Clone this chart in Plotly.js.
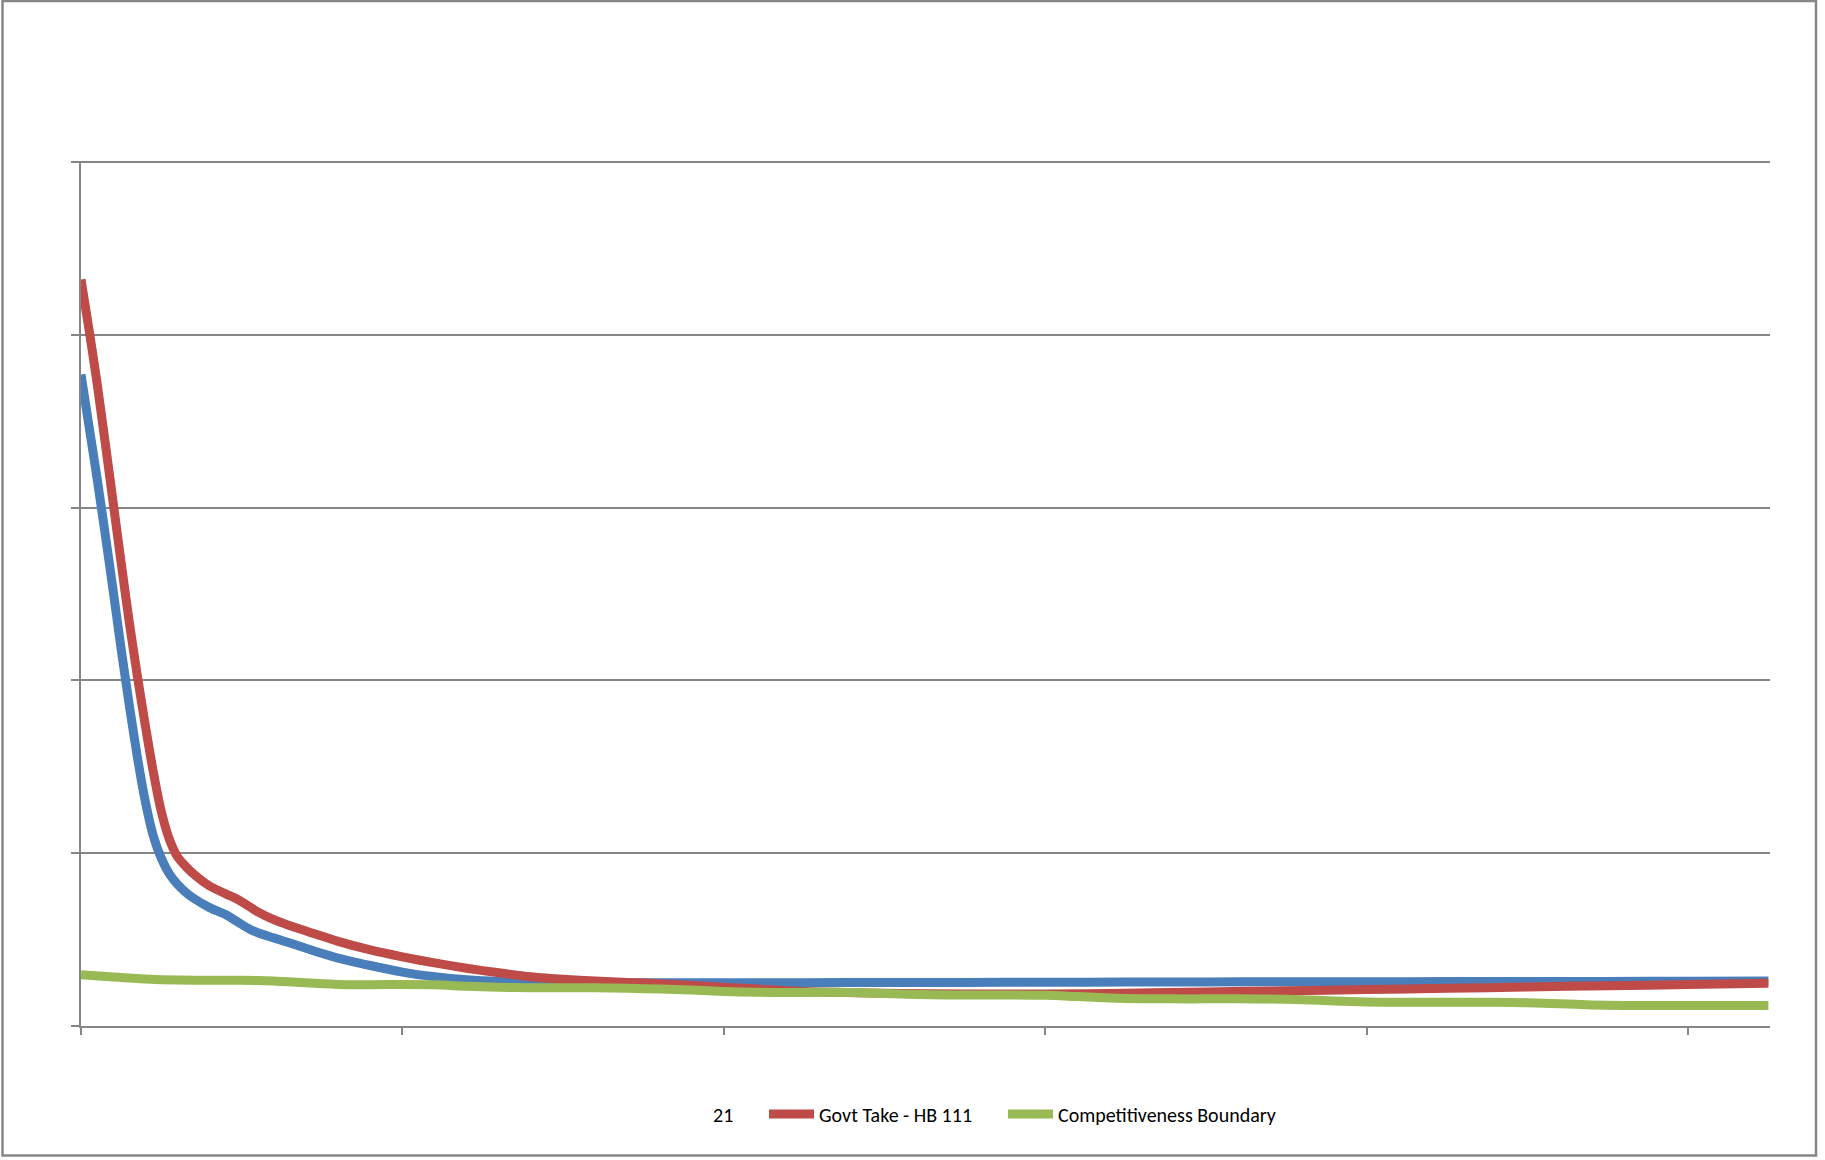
<!DOCTYPE html>
<html>
<head>
<meta charset="utf-8">
<script src="https://cdn.plot.ly/plotly-3.0.1.min.js"></script>
<style>
html,body{margin:0;padding:0;background:#fff;}
#chart{width:1825px;height:1160px;}
</style>
</head>
<body>
<div id="chart"></div>
<script>
// ---- data ----
const legendLabel21 = "21";
const nameRed = "Govt Take - HB 111";
const nameGreen = "Competitiveness Boundary";

const xCurve = [0, 0.5, 1, 1.5, 2, 2.5, 3, 3.5, 4, 4.5, 5, 5.5, 6, 6.5, 7, 8, 9, 9.7, 10.5, 11, 12, 13, 14, 16, 18, 20, 22, 24, 26, 28, 30, 32, 34, 36, 40, 45, 50, 55, 60, 65, 70, 75, 80, 85, 90, 95, 100, 105];

const blueValues = [3.77, 3.47, 3.17, 2.85, 2.52, 2.18, 1.86, 1.56, 1.30, 1.10, 0.97, 0.88, 0.82, 0.775, 0.74, 0.685, 0.645, 0.605, 0.56, 0.54, 0.51, 0.48, 0.45, 0.393, 0.35, 0.312, 0.285, 0.267, 0.257, 0.253, 0.251, 0.250, 0.250, 0.250, 0.250, 0.251, 0.252, 0.252, 0.253, 0.254, 0.255, 0.256, 0.256, 0.257, 0.258, 0.258, 0.259, 0.260];

const redValues = [4.32, 4.03, 3.72, 3.38, 3.03, 2.68, 2.34, 2.03, 1.74, 1.47, 1.24, 1.08, 0.98, 0.925, 0.88, 0.81, 0.765, 0.735, 0.69, 0.66, 0.615, 0.58, 0.55, 0.49, 0.44, 0.40, 0.365, 0.334, 0.308, 0.285, 0.27, 0.26, 0.252, 0.245, 0.225, 0.20, 0.19, 0.185, 0.185, 0.19, 0.197, 0.204, 0.211, 0.218, 0.226, 0.233, 0.240, 0.247];

const xGreen = [0, 2, 4, 6, 8, 10, 12, 14, 16, 18, 20, 22, 24, 26, 28, 30, 32, 34, 36, 38, 40, 42, 44, 46, 48, 50, 52, 54, 56, 58, 60, 62, 64, 66, 68, 70, 72, 74, 76, 78, 80, 82, 84, 86, 88, 90, 92, 94, 96, 98, 100, 102, 105];
const greenValues = [0.296, 0.283, 0.272, 0.266, 0.265, 0.265, 0.260, 0.250, 0.240, 0.239, 0.240, 0.238, 0.230, 0.224, 0.222, 0.222, 0.221, 0.218, 0.214, 0.208, 0.200, 0.195, 0.194, 0.195, 0.194, 0.188, 0.182, 0.180, 0.180, 0.180, 0.178, 0.170, 0.162, 0.158, 0.157, 0.157, 0.157, 0.156, 0.152, 0.145, 0.139, 0.137, 0.137, 0.137, 0.137, 0.135, 0.129, 0.122, 0.119, 0.118, 0.118, 0.118, 0.118];

const xTicks = [0, 20, 40, 60, 80, 100];

// ---- styling ----
const grey = "#868686";
const W = 9;

const traces = [
  {x: [null], y: [null], name: legendLabel21, mode: "lines", type: "scatter", legend: "legend",
   line: {color: "rgba(0,0,0,0)", width: W}, hoverinfo: "skip"},
  {x: xCurve, y: blueValues, name: legendLabel21, mode: "lines", type: "scatter",
   showlegend: false, line: {color: "#4A7EBB", width: W, shape: "spline", smoothing: 0.7}},
  {x: xCurve, y: redValues, name: nameRed, mode: "lines", type: "scatter", legend: "legend2",
   line: {color: "#BE4B48", width: W, shape: "spline", smoothing: 0.7}},
  {x: xGreen, y: greenValues, name: nameGreen, mode: "lines", type: "scatter", legend: "legend3",
   line: {color: "#98B954", width: W, shape: "spline", smoothing: 0.7}}
];

const L = 81, R = 1770, T = 162, B = 1026;
const pw = R - L, ph = B - T;
const legY = (B - 1114) / ph;
function leg(px) {
  return {orientation: "h", x: (px - L) / pw, xanchor: "left", y: legY, yanchor: "middle",
          bgcolor: "rgba(0,0,0,0)", font: {size: 20}, itemwidth: 45};
}

const layout = {
  width: 1825, height: 1160,
  margin: {l: L, r: 1825 - R, t: T, b: 1160 - B, pad: 0},
  paper_bgcolor: "#ffffff", plot_bgcolor: "#ffffff",
  showlegend: true,
  font: {family: "Carlito, Lato, 'Liberation Sans', sans-serif", size: 20, color: "#000"},
  xaxis: {range: [0, 105.1], showgrid: false, zeroline: false, showticklabels: false,
          tickvals: xTicks, ticks: "outside", ticklen: 7, tickwidth: 2, tickcolor: grey,
          showline: true, linecolor: grey, linewidth: 2, fixedrange: true},
  yaxis: {range: [0, 5], dtick: 1, tick0: 0, showgrid: true, gridcolor: grey, gridwidth: 2,
          zeroline: false, showticklabels: false, ticks: "outside", ticklen: 8, tickwidth: 2,
          tickcolor: grey, showline: true, linecolor: grey, linewidth: 2, fixedrange: true},
  legend: leg(658),
  legend2: leg(764),
  legend3: leg(1003),
  shapes: [
    {type: "rect", xref: "paper", yref: "paper",
     x0: (2.5 - L) / pw, x1: (1816 - L) / pw, y0: (B - 1155.5) / ph, y1: (B - 1) / ph,
     line: {color: grey, width: 2.5}, fillcolor: "rgba(0,0,0,0)", layer: "below"},
    {type: "line", xref: "paper", yref: "paper", x0: -8 / pw, x1: 1, y0: 1, y1: 1,
     line: {color: grey, width: 2}, layer: "below"}
  ]
};

Plotly.newPlot("chart", traces, layout, {displayModeBar: false, staticPlot: true});
</script>
</body>
</html>
